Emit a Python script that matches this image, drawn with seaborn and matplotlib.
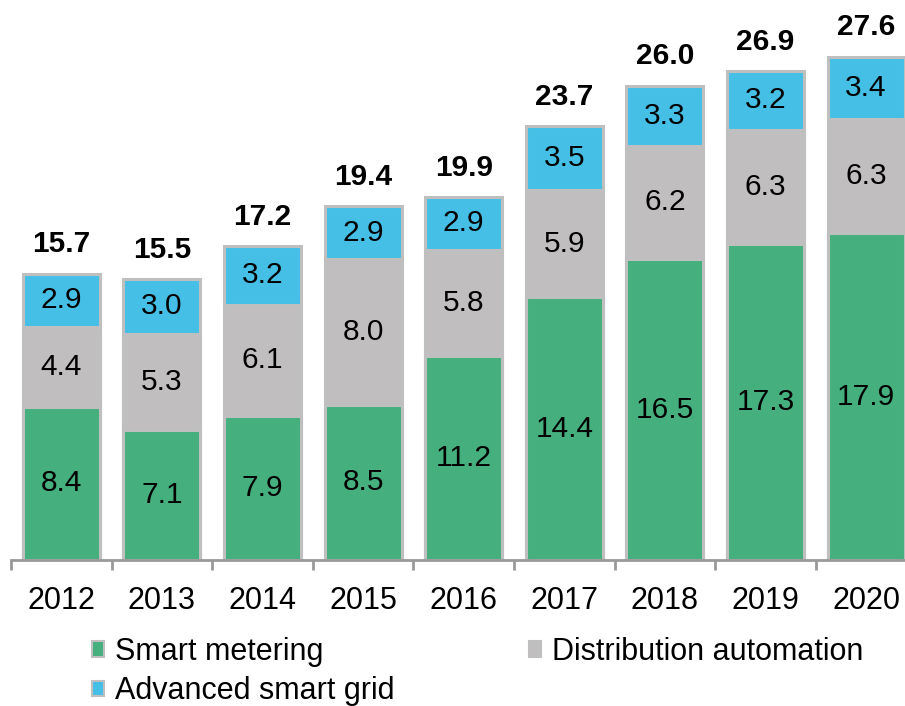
import matplotlib
matplotlib.use("Agg")
import matplotlib.pyplot as plt
from matplotlib.patches import Patch
import numpy as np
import seaborn as sns

years = ["2012", "2013", "2014", "2015", "2016", "2017", "2018", "2019", "2020"]
smart_metering = [8.4, 7.1, 7.9, 8.5, 11.2, 14.4, 16.5, 17.3, 17.9]
distribution_automation = [4.4, 5.3, 6.1, 8.0, 5.8, 5.9, 6.2, 6.3, 6.3]
advanced_smart_grid = [2.9, 3.0, 3.2, 2.9, 2.9, 3.5, 3.3, 3.2, 3.4]
totals = [15.7, 15.5, 17.2, 19.4, 19.9, 23.7, 26.0, 26.9, 27.6]

GREEN = "#45AF7E"
GREY = "#C0BEBF"
BLUE = "#45BFE6"
EDGE = "#BFBFBF"

sns.set_style("white")
plt.rcParams["font.family"] = ["Liberation Sans", "DejaVu Sans"]
plt.rcParams["text.color"] = "black"
plt.rcParams["xtick.labelcolor"] = "black"

fig = plt.figure(figsize=(9.05, 7.06), dpi=100)
ax = fig.add_axes([11 / 905, 146 / 706, 905.4 / 905, 560 / 706])

sm = np.array(smart_metering)
da = np.array(distribution_automation)
asg = np.array(advanced_smart_grid)

# stacked bars: draw cumulative heights from the top down
bar_kw = dict(width=0.765, edgecolor=EDGE, linewidth=2.2, saturation=1, ax=ax)
sns.barplot(x=years, y=sm + da + asg, color=BLUE, **bar_kw)
sns.barplot(x=years, y=sm + da, color=GREY, **bar_kw)
sns.barplot(x=years, y=sm, color=GREEN, **bar_kw)

for i in range(len(years)):
    ax.text(i, sm[i] / 2, f"{sm[i]:.1f}", ha="center", va="center", fontsize=21.5)
    ax.text(i, sm[i] + da[i] / 2, f"{da[i]:.1f}", ha="center", va="center", fontsize=21.5)
    ax.text(i, sm[i] + da[i] + asg[i] / 2, f"{asg[i]:.1f}", ha="center", va="center", fontsize=21.5)
    ax.annotate(f"{totals[i]:.1f}", (i, sm[i] + da[i] + asg[i]), xytext=(0, 11),
                textcoords="offset points", ha="center", va="bottom",
                fontsize=21.5, fontweight="bold")

ax.set_xlim(-0.5, len(years) - 0.5)
ax.set_ylim(0, 30.7)
ax.set_xlabel("")
ax.set_ylabel("")
ax.set_yticks([])
for s in ["top", "right", "left"]:
    ax.spines[s].set_visible(False)
ax.spines["bottom"].set_color("#999999")
ax.spines["bottom"].set_linewidth(2)

ax.set_xticks(np.arange(-0.5, len(years)), minor=True)
ax.tick_params(axis="x", which="major", length=0, labelsize=22, pad=19, labelcolor="black")
ax.tick_params(axis="x", which="minor", length=7, width=2, color="#999999", bottom=True)

handles = [
    Patch(facecolor=GREEN, edgecolor=EDGE, linewidth=1.5, label="Smart metering"),
    Patch(facecolor=BLUE, edgecolor=EDGE, linewidth=1.5, label="Advanced smart grid"),
    Patch(facecolor=GREY, edgecolor=EDGE, linewidth=1.5, label="Distribution automation"),
]
fig.legend(handles=handles, loc="upper left", bbox_to_anchor=(92 / 905, 1 - 637 / 706),
           ncol=2, frameon=False, fontsize=22, handlelength=0.4, handleheight=0.4,
           handletextpad=0.35, columnspacing=4.4, labelspacing=0.3,
           borderpad=0, borderaxespad=0)

fig.savefig("out.png", dpi=100)
